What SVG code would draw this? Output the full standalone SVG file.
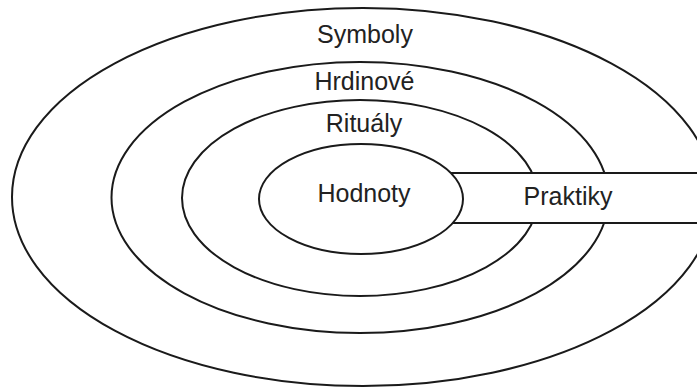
<svg xmlns="http://www.w3.org/2000/svg" width="697" height="387" viewBox="0 0 697 387">
<style>
.ring{fill:#fff;stroke:#1a1a1a;stroke-width:2}
.lbl{font-family:"Liberation Sans",Arial,sans-serif;font-size:25px;fill:#222;text-anchor:middle}
</style>
<rect width="697" height="387" fill="#fff"/>
<g id="symboly">
<ellipse class="ring" cx="363" cy="197" rx="351" ry="189"/>
<text class="lbl" x="365" y="43">Symboly</text>
</g>
<g id="hrdinove">
<ellipse class="ring" cx="360" cy="197.5" rx="248.5" ry="135.5"/>
<text class="lbl" x="364.5" y="90">Hrdinové</text>
</g>
<g id="ritualy">
<ellipse class="ring" cx="360" cy="198" rx="178" ry="98"/>
<text class="lbl" x="364" y="132">Rituály</text>
</g>
<g id="praktiky">
<rect class="ring" x="400" y="173" width="320" height="50"/>
<text class="lbl" x="568" y="205">Praktiky</text>
</g>
<g id="hodnoty">
<ellipse class="ring" cx="361" cy="199" rx="102" ry="55"/>
<text class="lbl" x="364" y="202">Hodnoty</text>
</g>
<g id="connectors"/>
</svg>
